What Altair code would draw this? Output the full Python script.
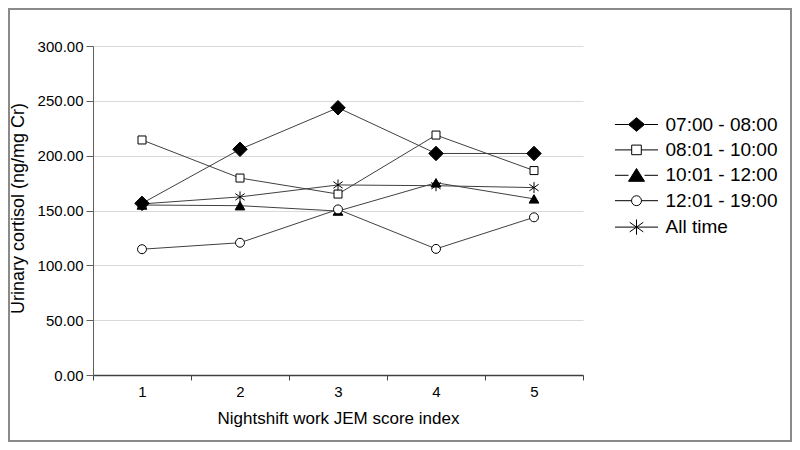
import altair as alt
import pandas as pd

# ---- data ----
jem_index = [1, 2, 3, 4, 5]
series_names = ["07:00 - 08:00", "08:01 - 10:00", "10:01 - 12:00", "12:01 - 19:00", "All time"]
s_0700_0800 = [156.5, 205.8, 243.7, 202.0, 202.0]
s_0801_1000 = [214.3, 179.6, 165.0, 218.8, 186.4]
s_1001_1200 = [155.0, 154.4, 149.5, 175.3, 160.6]
s_1201_1900 = [114.7, 120.6, 151.0, 115.0, 143.8]
s_all_time = [156.0, 162.4, 173.3, 172.6, 170.9]
y_ticks = [0, 50, 100, 150, 200, 250, 300]

series_values = [s_0700_0800, s_0801_1000, s_1001_1200, s_1201_1900, s_all_time]
rows = []
for name, vals in zip(series_names, series_values):
    for x, v in zip(jem_index, vals):
        rows.append({"jem": x, "series": name, "cortisol": v})
df = pd.DataFrame(rows)

FONT = "Liberation Sans"

# marker styles in the plot
star_path = "M0,-1L0,1M-0.85,-0.6L0.85,0.6M-0.85,0.6L0.85,-0.6"
marker_styles = [
    {"shape": "diamond", "fill": "black", "size": 210},
    {"shape": "square", "fill": "white", "size": 64},
    {"shape": "triangle-up", "fill": "black", "size": 95},
    {"shape": "circle", "fill": "white", "size": 80},
    {"shape": star_path, "fill": "transparent", "size": 120},
]

# legend symbols: marker with line segments to both sides
L = 2.69
legend_shapes = [
    f"M-{L},0L-1,0M1,0L{L},0M-1,0L0,-0.85L1,0L0,0.85Z",
    f"M-{L},0L-0.6,0M0.6,0L{L},0M-0.6,-0.6L0.6,-0.6L0.6,0.6L-0.6,0.6Z",
    f"M-{L},0L-1,0M1,0L{L},0M0,-0.85L1,0.75L-1,0.75Z",
    f"M-{L},0L-0.62,0M0.62,0L{L},0M-0.62,0A0.62,0.62 0 1,0 0.62,0A0.62,0.62 0 1,0 -0.62,0Z",
    f"M-{L},0L{L},0M0,-0.95L0,0.95M-0.85,-0.6L0.85,0.6M-0.85,0.6L0.85,-0.6",
]
legend_fills = ["black", "white", "black", "white", "transparent"]
legend_strokes = ["black", "black", "black", "black", "black"]

x_enc = alt.X(
    "jem:O",
    bandPosition=0.5,
    scale=alt.Scale(type="band", paddingInner=0, paddingOuter=0),
    axis=alt.Axis(
        title="Nightshift work JEM score index",
        labelAngle=0,
        tickBand="extent",
        tickSize=5,
        tickColor="#404040",
        domainColor="#404040",
        domainWidth=1.5,
        labelFont=FONT,
        labelFontSize=15,
        labelColor="black",
        labelPadding=4,
        titleFont=FONT,
        titleFontSize=17,
        titleFontWeight="normal",
        titleColor="black",
        titleY=48,
        titleBaseline="alphabetic",
        grid=False,
    ),
)
y_enc = alt.Y(
    "cortisol:Q",
    scale=alt.Scale(domain=[0, 300], nice=False, zero=True),
    axis=alt.Axis(
        title="Urinary cortisol (ng/mg Cr)",
        values=y_ticks,
        format=".2f",
        tickSize=7,
        tickColor="#606060",
        domainColor="#606060",
        gridColor="#d9d9d9",
        gridWidth=1,
        labelFont=FONT,
        labelFontSize=15,
        labelColor="black",
        labelPadding=3,
        titleFont=FONT,
        titleFontSize=18,
        titleFontWeight="normal",
        titleColor="black",
        titleX=-75,
        titleY=162,
        titleBaseline="middle",
        titleAlign="center",
        titleAngle=-90,
    ),
)

base = alt.Chart(df)

lines = base.mark_line(color="#404040", strokeWidth=1).encode(
    x=x_enc,
    y=y_enc,
    detail="series:N",
)

point_layers = []
for name, st in zip(series_names, marker_styles):
    point_layers.append(
        base.transform_filter(alt.datum.series == name)
        .mark_point(
            shape=st["shape"], fill=st["fill"], size=st["size"],
            stroke="black", strokeWidth=1, opacity=1, filled=False,
        )
        .encode(x=x_enc, y=y_enc)
    )

legend_layer = base.transform_filter("false").mark_point(
    strokeWidth=1, opacity=1
).encode(
    x=x_enc,
    y=y_enc,
    shape=alt.Shape(
        "series:N",
        scale=alt.Scale(domain=series_names, range=legend_shapes),
        legend=alt.Legend(
            title=None,
            orient="none",
            legendX=534,
            legendY=69,
            padding=0,
            symbolSize=256,
            symbolStrokeWidth=1,
            symbolOpacity=1,
            labelFont=FONT,
            labelFontSize=19,
            labelColor="black",
            labelOffset=19.5,
            rowPadding=5.4,
            labelLimit=300,
        ),
    ),
    fill=alt.Fill("series:N", scale=alt.Scale(domain=series_names, range=legend_fills), legend=None),
    stroke=alt.Stroke("series:N", scale=alt.Scale(domain=series_names, range=legend_strokes), legend=None),
)

frame = alt.Chart(pd.DataFrame({"k": [0]})).mark_rect(
    fill="transparent", stroke="#8a8a8a", strokeWidth=2
).encode(
    x=alt.value(-84),
    x2=alt.value(698),
    y=alt.value(-37),
    y2=alt.value(395),
)

chart = alt.layer(frame, lines, *point_layers, legend_layer).properties(
    width=490,
    height=329,
    autosize=alt.AutoSizeParams(type="none"),
    padding={"left": 85, "top": 38, "right": 209, "bottom": 67},
    background="white",
).configure_view(stroke=None)

chart.save("out.html", embed_options={"renderer": "svg", "actions": False})
